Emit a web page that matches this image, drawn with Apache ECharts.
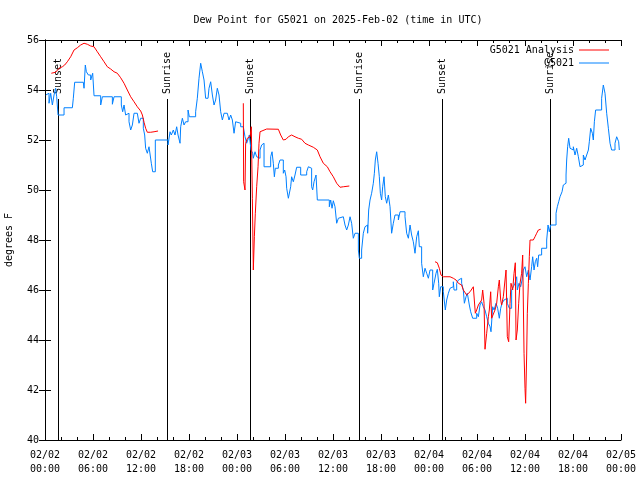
<!DOCTYPE html>
<html>
<head>
<meta charset="utf-8">
<script src="https://cdn.jsdelivr.net/npm/echarts@6/dist/echarts.min.js"></script>
<style>html,body{margin:0;padding:0;background:#fff}#c{width:640px;height:480px}</style>
</head>
<body>
<div id="c"></div>
<script>
// Hours since 2025-02-02 00:00 UTC
const tickLabels = ["02/02\n00:00","02/02\n06:00","02/02\n12:00","02/02\n18:00","02/03\n00:00","02/03\n06:00","02/03\n12:00","02/03\n18:00","02/04\n00:00","02/04\n06:00","02/04\n12:00","02/04\n18:00","02/05\n00:00"];

const blueHours = [0.1,0.21,0.5,0.71,0.92,1.13,1.33,1.46,1.63,2.38,3.42,3.54,3.71,4.79,4.88,5.04,5.17,5.42,5.71,5.96,6.13,6.96,7.17,8.42,8.63,9.54,9.71,9.88,10.08,10.29,10.5,10.71,10.92,11.13,11.54,11.75,11.96,12.29,12.46,12.58,12.79,13.0,13.21,13.29,13.46,13.79,15.38,15.63,15.79,16.04,16.25,16.46,16.63,16.88,16.96,17.17,17.38,17.58,17.88,18.04,18.83,19.04,19.25,19.46,19.67,19.88,20.08,20.38,20.5,20.71,20.92,21.13,21.33,21.54,21.75,21.96,22.17,22.38,22.79,23.0,23.21,23.42,23.63,23.83,24.04,24.46,24.79,25.0,25.21,25.42,25.54,25.75,25.96,26.04,26.25,26.46,26.67,26.88,27.08,27.21,27.38,28.21,28.38,28.54,28.67,28.79,29.17,29.38,29.79,29.96,30.13,30.21,30.42,30.63,30.71,30.83,31.04,31.25,31.46,31.96,32.71,32.92,33.13,33.33,33.46,33.63,33.88,34.04,35.54,35.71,35.88,36.04,36.25,36.46,36.67,36.88,37.29,37.5,37.71,37.92,38.13,38.33,38.54,38.75,39.17,39.29,39.58,39.79,40.0,40.21,40.33,40.46,40.63,40.83,41.04,41.17,41.29,41.46,41.63,41.79,41.92,42.08,42.21,42.38,42.54,42.71,42.92,43.13,43.33,43.54,43.75,44.17,44.38,45.0,45.21,45.42,45.63,45.83,46.04,46.25,46.46,46.67,46.79,47.08,47.29,47.5,47.71,47.92,48.13,48.46,48.63,48.88,49.04,49.21,49.29,49.46,49.79,50.04,50.21,50.42,50.63,50.83,51.04,51.13,51.46,51.67,51.88,52.08,52.29,52.42,52.63,52.79,53.04,53.21,53.46,53.96,54.17,54.38,54.58,54.79,55.0,55.21,55.42,55.63,55.75,55.96,56.13,56.38,56.58,56.79,56.96,57.13,57.38,57.63,57.79,58.04,58.33,58.54,58.75,58.96,59.04,59.25,59.46,59.63,59.79,60.0,60.21,60.42,60.63,60.83,60.96,61.13,61.29,61.46,61.58,61.71,62.08,62.71,62.88,63.04,63.21,63.88,64.04,64.21,64.38,64.63,64.79,65.0,65.13,65.21,65.33,65.46,65.63,65.83,66.04,66.25,66.46,66.67,66.88,67.08,67.29,67.5,67.71,67.92,68.04,68.21,68.42,68.54,68.67,68.83,69.58,69.79,70.0,70.21,70.42,70.63,70.83,71.25,71.46,71.58,71.71,71.79];
const blueValues = [53.8,53.87,53.47,53.87,53.4,53.8,54.07,53.73,53.0,53.29,53.33,53.67,54.31,54.31,54.07,55.0,54.73,54.6,54.4,54.67,53.77,53.4,53.73,53.43,53.73,53.4,53.13,53.4,53.0,53.07,52.73,52.4,52.6,53.07,53.0,52.67,52.87,52.47,52.2,51.67,51.47,51.73,51.67,51.07,50.73,52.0,51.8,52.33,52.2,52.4,52.2,52.53,52.2,51.87,52.53,52.87,52.6,52.73,53.2,52.93,53.13,53.67,54.47,55.07,54.73,54.4,53.67,53.6,54.07,54.33,53.8,53.4,53.6,54.07,53.8,53.13,52.8,53.07,53.13,52.8,53.0,52.8,52.27,52.73,52.67,52.53,52.57,52.13,51.87,52.07,52.2,51.6,51.47,51.27,51.53,51.33,51.27,51.6,51.8,51.87,50.93,51.33,51.53,51.07,50.53,50.87,51.0,51.2,50.67,50.8,50.53,50.07,49.67,49.6,50.13,50.53,50.33,50.6,50.91,50.6,50.73,50.93,50.87,50.13,50.0,50.33,50.6,49.6,49.33,49.6,49.27,49.57,49.33,48.67,48.87,48.93,48.87,48.6,48.4,48.6,48.93,48.67,48.07,48.27,47.6,47.27,47.6,48.27,48.53,48.6,48.27,49.2,49.6,49.87,50.27,50.67,51.2,51.53,51.07,50.53,49.87,49.6,50.13,50.53,49.73,49.47,49.8,49.33,48.27,48.67,49.0,48.8,49.13,48.93,48.27,48.07,48.6,48.2,47.93,47.47,48.13,48.37,47.73,47.07,46.53,46.87,46.67,46.47,46.8,46.0,46.27,46.67,46.83,46.27,45.73,46.13,45.93,45.2,45.6,45.87,46.07,46.13,46.33,46.0,46.27,46.4,46.47,46.27,46.0,45.47,45.73,45.87,45.4,45.13,44.87,45.07,44.93,45.4,45.53,45.33,45.2,44.93,44.67,44.53,44.33,45.33,45.2,45.47,45.27,44.87,45.27,45.47,45.6,45.67,45.47,45.27,46.0,46.13,46.27,46.53,46.0,46.27,46.13,46.4,46.8,46.93,46.53,46.8,46.4,46.93,47.33,46.8,47.13,47.27,46.93,47.4,47.67,48.0,48.6,48.33,48.6,49.07,49.33,49.53,49.73,49.93,50.2,50.27,50.6,51.2,51.73,52.07,51.67,51.6,51.73,51.4,51.67,51.33,50.93,51.0,51.4,51.2,51.4,51.6,51.93,52.47,52.27,52.0,52.73,53.2,53.67,54.2,53.87,53.07,52.47,51.87,51.6,51.87,52.13,52.2,51.93,51.6];

const red1Hours = [0.79,1.33,1.75,2.17,2.46,2.79,3.21,3.63,4.04,4.46,4.88,5.29,5.71,6.13,6.54,6.96,7.38,7.79,8.21,8.63,9.04,9.46,9.88,10.29,10.71,11.13,11.54,11.96,12.17,12.38,12.58,12.79,13.21,13.63,14.13];
const red1Values = [54.67,54.71,54.87,54.93,55.0,55.13,55.33,55.6,55.69,55.8,55.87,55.83,55.76,55.73,55.53,55.33,55.13,54.93,54.84,54.73,54.67,54.49,54.27,54.0,53.73,53.53,53.33,53.16,53.0,52.71,52.47,52.31,52.31,52.33,52.36];

const red2Hours = [24.79,24.83,25.0,25.08,25.29,25.63,25.79,25.92,26.04,26.17,26.29,26.46,26.63,26.75,26.88,27.71,29.17,29.46,29.79,30.13,30.42,30.83,31.25,31.67,32.08,32.5,32.92,33.54,34.04,34.38,34.79,35.29,35.63,36.04,36.46,36.88,37.29,38.04];
const red2Values = [53.47,50.33,50.0,51.87,52.07,52.13,52.53,49.67,46.8,48.13,49.07,50.13,50.93,51.87,52.33,52.44,52.43,52.2,52.0,52.03,52.13,52.2,52.13,52.07,52.03,51.87,51.8,51.71,51.6,51.33,51.07,50.93,50.73,50.53,50.27,50.11,50.13,50.16];

const red3Hours = [48.75,49.04,49.29,49.5,49.79,50.63,51.04,51.38,51.67,52.08,52.29,52.71,53.13,53.54,53.75,53.79,53.96,54.17,54.38,54.58,54.71,54.88,55.0,55.21,55.42,55.54,55.71,55.83,56.04,56.25,56.46,56.67,56.79,56.96,57.08,57.29,57.5,57.63,57.79,57.96,58.13,58.25,58.46,58.63,58.79,58.88,59.04,59.21,59.38,59.58,59.71,59.88,60.0,60.08,60.21,60.29,60.42,60.54,60.63,61.04,61.25,61.46,61.67,61.96];
const red3Values = [47.13,47.09,46.87,46.6,46.53,46.53,46.47,46.4,46.27,46.2,46.0,45.8,45.93,46.13,46.2,45.07,45.2,45.4,45.47,45.6,46.0,45.47,43.63,44.27,44.93,45.2,45.93,44.87,44.93,45.2,45.47,46.13,46.4,45.6,45.4,45.73,46.4,46.8,44.13,43.93,45.47,46.27,46.0,46.67,47.09,44.0,44.4,45.47,46.27,46.67,47.4,43.47,42.07,41.47,43.4,45.07,46.27,47.33,48.0,48.0,48.13,48.27,48.4,48.43];

const sunHours = [1.63,15.29,25.58,39.29,49.58,63.17];
const sunLabels = ["Sunset","Sunrise","Sunset","Sunrise","Sunset","Sunrise"];

const FONT = '"DejaVu Sans Mono", "Liberation Mono", monospace';
const zip = (a,b) => a.map((h,i)=>[h,b[i]]);

const chart = echarts.init(document.getElementById('c'), null, {renderer:'canvas'});
const axisCommon = {
  type:'value', min:0, max:72, interval:6,
  axisLine:{show:true, lineStyle:{color:'#000', width:1}},
  axisTick:{show:true, inside:true, length:6, lineStyle:{color:'#000'}},
  minorTick:{show:true, splitNumber:3, length:3, lineStyle:{color:'#000'}},
  splitLine:{show:false}, minorSplitLine:{show:false}
};
const yCommon = {
  type:'value', min:40, max:56, interval:2,
  axisLine:{show:true, lineStyle:{color:'#000', width:1}},
  axisTick:{show:true, inside:true, length:6, lineStyle:{color:'#000'}},
  splitLine:{show:false}
};
chart.setOption({
  animation:false,
  backgroundColor:'#fff',
  title:{text:'Dew Point for G5021 on 2025-Feb-02 (time in UTC)', left:333, top:10, textAlign:'center',
    textStyle:{fontFamily:FONT, fontSize:10, fontWeight:'normal', color:'#000'}},
  grid:{left:45, right:19, top:40, bottom:40, containLabel:false, outerBoundsMode:'none'},
  legend:[
    {data:['G5021 Analysis'], right:31, top:45, orient:'vertical', align:'right', padding:0, itemWidth:30, itemHeight:1, icon:'rect',
     textStyle:{fontFamily:FONT, fontSize:10, color:'#000'}},
    {data:['G5021'], right:31, top:58, orient:'vertical', align:'right', padding:0, itemWidth:30, itemHeight:1, icon:'rect',
     textStyle:{fontFamily:FONT, fontSize:10, color:'#000'}}
  ],
  xAxis:[
    Object.assign({}, axisCommon, {position:'bottom',
      axisLabel:{margin:8, fontFamily:FONT, fontSize:10, color:'#000', lineHeight:14,
        formatter:v => tickLabels[Math.round(v/6)]}}),
    Object.assign({}, axisCommon, {position:'top', axisLabel:{show:false}})
  ],
  yAxis:[
    Object.assign({}, yCommon, {position:'left', name:'degrees F', nameLocation:'middle', nameGap:31, nameRotate:90,
      nameTextStyle:{fontFamily:FONT, fontSize:10, color:'#000'},
      axisLabel:{margin:6, fontFamily:FONT, fontSize:10, color:'#000'}}),
    Object.assign({}, yCommon, {position:'right', axisLabel:{show:false}})
  ],
  series:[
    {type:'custom', xAxisIndex:0, yAxisIndex:0, z:1, silent:true,
     data: sunHours.map(h=>[h,40]),
     renderItem:(params, api)=>{
       const h = api.value(0);
       const b = api.coord([h, 40]);
       const x = Math.round(b[0]) + 0.5;
       const topY = params.coordSys.y + 59;
       return {type:'group', children:[
         {type:'line', shape:{x1:x, y1:topY, x2:x, y2:b[1]}, style:{stroke:'#000', lineWidth:1}},
         {type:'text', x:x, y:topY-5, rotation:Math.PI/2,
          style:{text:sunLabels[params.dataIndex], fill:'#000', font:'10px ' + FONT, align:'left', verticalAlign:'middle'}}
       ]};
     }},
    {name:'G5021', type:'line', step:'end', symbol:'none', color:'#0080ff', z:3,
     lineStyle:{width:1, color:'#0080ff'}, data: zip(blueHours, blueValues)},
    {name:'G5021 Analysis', type:'line', symbol:'none', color:'#ff0000', z:4,
     lineStyle:{width:1, color:'#ff0000'}, data: zip(red1Hours, red1Values)},
    {name:'G5021 Analysis', type:'line', symbol:'none', color:'#ff0000', z:4,
     lineStyle:{width:1, color:'#ff0000'}, data: zip(red2Hours, red2Values)},
    {name:'G5021 Analysis', type:'line', symbol:'none', color:'#ff0000', z:4,
     lineStyle:{width:1, color:'#ff0000'}, data: zip(red3Hours, red3Values)}
  ]
});
</script>
</body>
</html>
